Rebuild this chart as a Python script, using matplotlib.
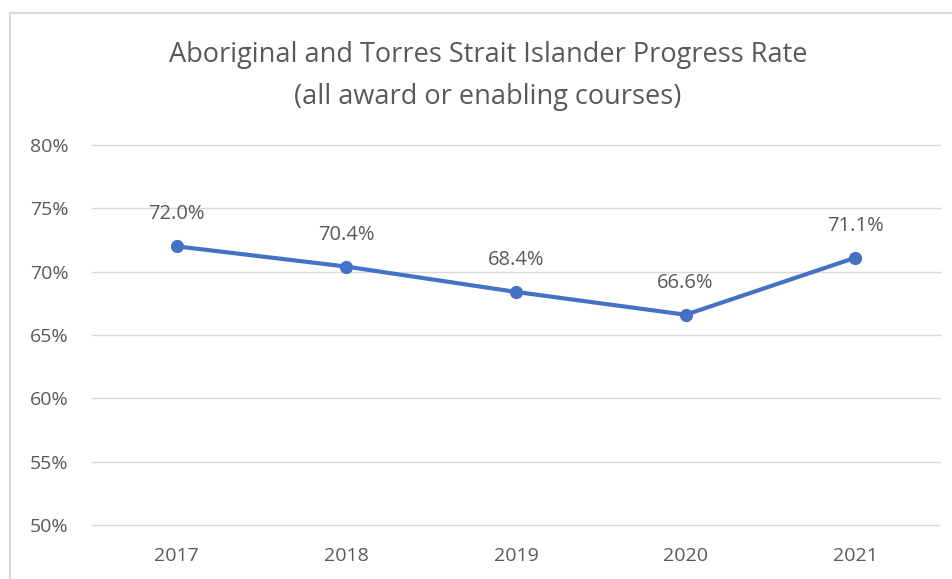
import matplotlib.pyplot as plt
from matplotlib.patches import Rectangle
from matplotlib.ticker import FuncFormatter

# data
years = ['2017', '2018', '2019', '2020', '2021']
rates = [72.0, 70.4, 68.4, 66.6, 71.1]
y_ticks = [50, 55, 60, 65, 70, 75, 80]

text_col = '#595959'
line_col = '#4472C4'
plt.rcParams['font.family'] = ['Open Sans', 'DejaVu Sans']

fig = plt.figure(figsize=(9.53, 5.79), dpi=100)
# chart border (cropped on right and bottom like the screenshot)
fig.patches.append(Rectangle((10 / 953, -0.1), 1.2, (579 - 13) / 579 + 0.1,
                             transform=fig.transFigure, fill=False,
                             edgecolor='#D9D9D9', linewidth=1.5))

ax = fig.add_axes([92 / 953, 54 / 579, (940 - 92) / 953, (525 - 145) / 579])
x = list(range(len(years)))
ax.plot(x, rates, color=line_col, linewidth=3, marker='o', markersize=8.5)

for xi, r in zip(x, rates):
    ax.annotate(f'{r:.1f}%', (xi, r), xytext=(0, 23), textcoords='offset points',
                ha='center', va='center', color=text_col, fontsize=14.5)

ax.set_xlim(-0.5, len(years) - 0.5)
ax.set_ylim(50, 80)
ax.set_yticks(y_ticks)
ax.yaxis.set_major_formatter(FuncFormatter(lambda v, p: f'{v:.0f}%'))
ax.set_xticks(x)
ax.set_xticklabels(years)
ax.grid(axis='y', color='#D9D9D9', linewidth=1)
for gl in ax.get_ygridlines():
    gl.set_clip_on(False)
ax.set_axisbelow(True)
for s in ax.spines.values():
    s.set_visible(False)
ax.tick_params(length=0, colors=text_col, labelsize=14)
ax.tick_params(axis='y', pad=17)
ax.tick_params(axis='x', pad=16)

fig.text(488 / 953, 1 - 55 / 579, 'Aboriginal and Torres Strait Islander Progress Rate',
         ha='center', va='center', color=text_col, fontsize=19.5)
fig.text(488 / 953, 1 - 97 / 579, '(all award or enabling courses)',
         ha='center', va='center', color=text_col, fontsize=19.5)

plt.savefig('out.png', dpi=100)
